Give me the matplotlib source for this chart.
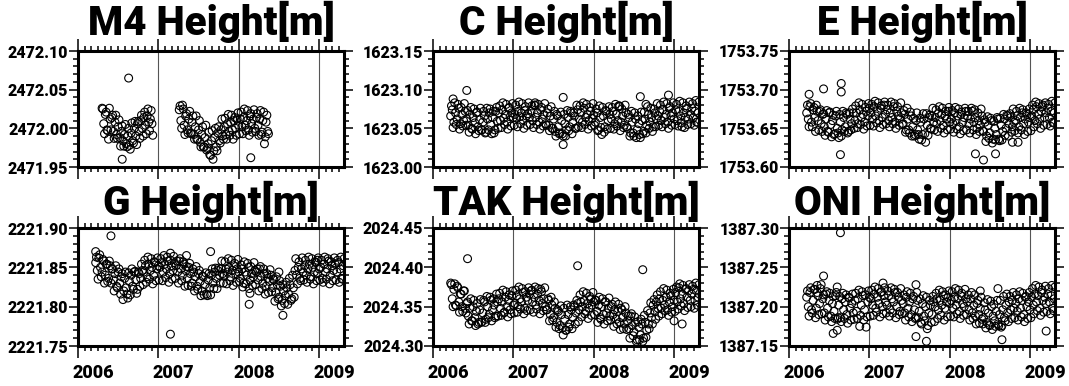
import numpy as np
import matplotlib.pyplot as plt
from matplotlib.ticker import FixedLocator, FormatStrFormatter
import matplotlib.transforms as mtransforms

plt.rcParams['font.family'] = ['Roboto', 'DejaVu Sans']
plt.rcParams['font.weight'] = 'black'

nan = np.nan

# solution epochs (decimal year): two interleaved sets, ~3.5 days apart
epochs = np.round(2006.22 + 0.02 * np.arange(155), 2)
epochs2 = np.round(epochs + 0.01, 2)

names = ['M4', 'C', 'E', 'G', 'TAK', 'ONI']
bases = [2472.00, 1623.00, 1753.60, 2221.80, 2024.30, 1387.20]   # m
ymins = [2471.95, 1623.00, 1753.60, 2221.75, 2024.30, 1387.15]   # m

# height residuals in mm relative to base, one value per epoch
m4_mm = [nan, nan, nan, nan, 26, 6, 18, -2, -14, 12,
         14, -4, 8, -8, 2, -12, -4, -16, -8, -20,
         -10, -22, -6, -16, 0, -10, 6, -4, 10, 0,
         14, 4, 16, 8, 12, 6, nan, nan, nan, nan,
         nan, nan, nan, nan, nan, nan, nan, nan, nan, nan,
         nan, nan, 24, 10, 30, 4, 16, -2, 12, -6,
         8, -8, 2, -14, -2, -18, -8, -24, -12, -28,
         -20, -34, -16, -40, -12, -24, -6, -16, -2, -10,
         2, -8, 6, -4, 8, -2, 10, 0, 12, 4,
         12, 2, 14, 4, 10, -2, 16, 6, 12, 0,
         14, 4, 12, -8, 10, -20, 8, -4, nan, nan,
         nan, nan, nan, nan, nan, nan, nan, nan, nan, nan,
         nan, nan, nan, nan, nan, nan, nan, nan, nan, nan,
         nan, nan, nan, nan, nan, nan, nan, nan, nan, nan,
         nan, nan, nan, nan, nan, nan, nan, nan, nan, nan,
         nan, nan, nan, nan, nan]
m4_mm2 = [nan, nan, nan, nan, 25, -7, 21, -3, 26, -2,
          17, -13, 17, -13, 11, -23, 3, -23, 5, -24,
          0, -27, 7, -19, 9, -21, 9, -13, 17, -10,
          21, -7, 25, -3, 23, -9, nan, nan, nan, nan,
          nan, nan, nan, nan, nan, nan, nan, nan, nan, nan,
          nan, nan, 29, 0, 25, -8, 19, -6, 22, -7,
          16, -14, 16, -14, 10, -24, 2, -24, 4, -26,
          -5, -35, -3, -29, 0, -29, 2, -19, 12, -14,
          13, -14, 18, -9, 17, -14, 14, -9, 20, -7,
          21, -7, 25, -3, 23, -9, 19, -5, 24, -4,
          19, -9, 23, -5, 21, -11, 17, -7, nan, nan,
          nan, nan, nan, nan, nan, nan, nan, nan, nan, nan,
          nan, nan, nan, nan, nan, nan, nan, nan, nan, nan,
          nan, nan, nan, nan, nan, nan, nan, nan, nan, nan,
          nan, nan, nan, nan, nan, nan, nan, nan, nan, nan,
          nan, nan, nan, nan, nan]
c_mm = [66, 74, 58, 70, 62, 76, 56, 68, 60, 72,
        62, 54, 68, 50, 64, 57, 70, 52, 61, 48,
        58, 66, 45, 62, 70, 55, 64, 44, 72, 59,
        70, 60, 74, 63, 68, 58, 76, 65, 70, 64,
        68, 63, 72, 65, 70, 61, 73, 66, 69, 64,
        72, 60, 80, 64, 70, 58, 74, 62, 68, 56,
        70, 54, 66, 50, 62, 46, 68, 52, 44, 60,
        40, 56, 48, 64, 52, 70, 58, 66, 50, 74,
        62, 70, 58, 76, 64, 68, 60, 72, 63, 67,
        58, 70, 48, 64, 42, 66, 52, 72, 60, 68,
        62, 72, 56, 68, 60, 78, 58, 66, 54, 70,
        50, 64, 44, 58, 40, 62, 48, 56, 38, 60,
        46, 62, 54, 68, 58, 64, 52, 70, 62, 66,
        72, 60, 74, 64, 68, 58, 76, 66, 70, 62,
        74, 60, 72, 66, 52, 70, 64, 76, 62, 68,
        76, 64, 72, 58, 70]
c_mm2 = [79, 51, 83, 55, 81, 49, 77, 53, 82, 54,
         73, 45, 77, 49, 75, 43, 71, 47, 76, 48,
         72, 44, 76, 48, 75, 43, 72, 48, 77, 50,
         79, 51, 83, 55, 81, 49, 77, 53, 82, 54,
         80, 52, 84, 56, 82, 50, 78, 54, 83, 55,
         79, 51, 83, 55, 81, 49, 77, 53, 82, 54,
         75, 47, 78, 50, 72, 40, 66, 43, 71, 43,
         68, 40, 73, 47, 72, 43, 70, 50, 80, 52,
         79, 51, 83, 55, 81, 49, 77, 53, 82, 54,
         75, 47, 79, 51, 77, 45, 73, 49, 78, 50,
         77, 49, 81, 53, 79, 47, 75, 51, 80, 52,
         68, 40, 72, 44, 70, 38, 66, 42, 71, 43,
         71, 44, 78, 50, 76, 46, 75, 52, 82, 54,
         80, 52, 84, 56, 82, 50, 78, 54, 83, 55,
         81, 53, 85, 57, 83, 51, 79, 55, 84, 56,
         82, 54, 86, 58, 84]
e_mm = [70, 62, 78, 58, 74, 64, 80, 60, 72, 56,
        68, 52, 62, 46, 70, 55, 60, 42, 66, 50,
        38, 58, 48, 64, 52, 68, 46, 62, 56, 70,
        60, 70, 56, 74, 64, 68, 58, 72, 66, 76,
        70, 62, 78, 66, 72, 60, 76, 64, 80, 68,
        74, 60, 70, 64, 78, 58, 72, 66, 62, 70,
        56, 68, 48, 62, 44, 66, 52, 40, 60, 48,
        36, 58, 42, 62, 32, 54, 64, 50, 66, 58,
        64, 56, 70, 60, 68, 54, 66, 62, 72, 58,
        62, 56, 70, 60, 66, 52, 68, 58, 64, 72,
        66, 56, 62, 72, 58, 64, 50, 60, 54, 66,
        46, 58, 40, 54, 44, 60, 36, 50, 42, 62,
        34, 54, 46, 62, 50, 66, 56, 64, 52, 58,
        60, 66, 52, 64, 70, 56, 62, 68, 58, 64,
        66, 74, 60, 78, 68, 62, 72, 80, 64, 70,
        76, 64, 72, 58, 70]
e_mm2 = [80, 52, 82, 52, 77, 46, 72, 48, 74, 46,
         69, 41, 73, 45, 71, 39, 67, 43, 72, 44,
         68, 40, 72, 46, 70, 44, 70, 48, 75, 50,
         79, 51, 83, 55, 81, 49, 77, 53, 82, 54,
         81, 53, 85, 57, 83, 51, 79, 55, 84, 56,
         80, 52, 84, 56, 82, 50, 78, 54, 83, 55,
         73, 45, 76, 48, 71, 40, 63, 42, 70, 42,
         63, 35, 69, 43, 69, 41, 67, 49, 76, 48,
         74, 46, 78, 50, 76, 44, 72, 48, 77, 49,
         73, 45, 77, 49, 75, 43, 71, 47, 76, 48,
         72, 44, 76, 48, 74, 42, 70, 46, 75, 47,
         61, 33, 65, 37, 63, 31, 59, 35, 64, 36,
         63, 35, 68, 41, 67, 40, 69, 45, 75, 47,
         72, 44, 76, 48, 74, 42, 70, 46, 75, 47,
         80, 52, 84, 56, 82, 50, 78, 54, 83, 55,
         81, 53, 85, 57, 83]
g_mm = [56, 46, 62, 50, 44, 58, 40, 54, 36, 52,
        48, 34, 42, 26, 44, 30, 38, 9, 36, 24,
        11, 32, 40, 26, 44, 34, 22, 42, 36, 46,
        44, 52, 38, 54, 46, 50, 40, 56, 48, 52,
        50, 56, 44, 54, 48, 58, 42, 52, 46, 56,
        52, 44, 58, 48, 40, 54, 46, 36, 50, 42,
        30, 44, 38, 26, 42, 32, 20, 38, 28, 16,
        34, 24, 40, 30, 44, 36, 46, 40, 48, 42,
        40, 48, 44, 50, 38, 46, 52, 42, 48, 44,
        36, 48, 30, 44, 40, 50, 34, 42, 38, 46,
        44, 34, 48, 38, 30, 42, 26, 36, 32, 40,
        24, 34, 18, 28, 12, 26, 8, 20, 14, 24,
        16, 28, 10, 24, 46, 40, 50, 36, 48, 44,
        52, 40, 48, 54, 38, 50, 44, 56, 42, 48,
        50, 36, 54, 44, 48, 58, 40, 52, 46, 54,
        44, 56, 48, 36, 52]
g_mm2 = [63, 35, 66, 38, 60, 30, 54, 32, 58, 30,
         48, 20, 52, 24, 48, 16, 42, 20, 44, 16,
         43, 15, 48, 22, 45, 17, 44, 26, 54, 28,
         59, 31, 63, 35, 61, 29, 57, 33, 62, 34,
         61, 33, 65, 37, 63, 31, 59, 35, 64, 36,
         58, 30, 61, 33, 57, 26, 51, 27, 55, 26,
         48, 20, 51, 22, 46, 14, 39, 15, 43, 14,
         42, 15, 48, 23, 49, 23, 49, 30, 58, 30,
         57, 29, 61, 33, 59, 27, 55, 31, 60, 32,
         53, 25, 57, 29, 55, 23, 51, 27, 56, 28,
         48, 20, 51, 23, 48, 16, 42, 18, 47, 19,
         35, 7, 38, 10, 33, 1, 28, 4, 31, 3,
         36, 8, 40, 12, 61, 29, 57, 33, 62, 34,
         59, 31, 63, 35, 61, 29, 57, 33, 62, 34,
         59, 31, 63, 35, 61, 29, 57, 33, 62, 34,
         59, 31, 63, 35, 61]
tak_mm = [80, 60, 72, 52, 76, 56, 66, 50, 70, 48,
          54, 38, 48, 32, 50, 36, 44, 28, 46, 30,
          42, 56, 34, 50, 40, 58, 46, 52, 38, 56,
          60, 48, 56, 42, 62, 50, 58, 46, 64, 52,
          54, 64, 50, 60, 56, 68, 48, 62, 58, 66,
          70, 56, 62, 52, 66, 58, 72, 54, 60, 50,
          46, 58, 40, 52, 36, 48, 30, 44, 26, 40,
          14, 34, 20, 40, 28, 46, 36, 50, 42, 54,
          46, 56, 50, 58, 44, 54, 48, 60, 52, 56,
          58, 44, 52, 36, 50, 40, 56, 42, 48, 38,
          50, 40, 46, 34, 44, 30, 48, 36, 28, 42,
          32, 22, 38, 26, 18, 30, 8, 24, 14, 28,
          10, 30, 20, 28, 42, 36, 52, 44, 56, 48,
          60, 48, 58, 52, 62, 46, 56, 64, 50, 58,
          68, 56, 74, 60, 66, 54, 72, 62, 70, 58,
          66, 72, 58, 70, 62]
tak_mm2 = [78, 50, 79, 51, 74, 43, 66, 44, 70, 42,
           56, 28, 60, 32, 58, 26, 54, 30, 59, 31,
           58, 30, 63, 36, 62, 32, 60, 36, 66, 38,
           67, 39, 71, 43, 69, 37, 65, 41, 70, 42,
           71, 43, 75, 47, 73, 41, 69, 45, 74, 46,
           71, 43, 75, 47, 73, 41, 69, 45, 74, 46,
           60, 32, 62, 33, 56, 24, 46, 22, 51, 23,
           48, 20, 52, 24, 50, 22, 52, 28, 58, 31,
           65, 37, 69, 41, 67, 35, 63, 39, 68, 40,
           58, 30, 62, 34, 60, 28, 56, 32, 61, 33,
           53, 25, 56, 28, 53, 21, 46, 22, 50, 21,
           38, 10, 41, 13, 37, 6, 31, 8, 34, 6,
           39, 11, 45, 22, 55, 28, 59, 34, 65, 38,
           69, 41, 73, 45, 71, 39, 67, 43, 72, 44,
           75, 47, 79, 51, 77, 45, 73, 49, 78, 50,
           76, 48, 80, 52, 78]
oni_mm = [12, 0, 18, -4, 8, 22, -2, 14, 4, 28,
          10, -8, 16, -2, 8, -12, 4, -6, 14, -16,
          2, -14, 10, -4, 6, -10, 12, -2, 4, -8,
          8, -6, 10, -25, 2, 14, -4, -26, 6, 12,
          10, 2, 16, -2, 12, 4, 18, 0, 14, 6,
          2, 14, -4, 10, 6, 18, 0, 12, -6, 8,
          4, -8, 12, -2, 6, -10, 10, -4, -14, 8,
          -6, -20, 4, -12, 0, -28, -8, 2, -10, 6,
          0, 10, -4, 8, 2, 14, -2, 6, 12, 4,
          8, -2, 12, 2, 10, -6, 14, 4, 0, 10,
          6, -4, 10, -8, 2, -12, 4, -10, -2, -16,
          -14, -4, -20, -8, -24, 0, -12, -18, -6, -22,
          -10, -26, -4, -14, 2, -8, 6, -4, 8, -2,
          4, -6, 10, -2, 8, -10, 12, 0, 6, -4,
          12, 2, 16, 6, 14, -2, 18, 8, 12, 4,
          16, 6, 14, -2, 10]
oni_mm2 = [20, -12, 24, -8, 22, -14, 18, -10, 23, -9,
           15, -17, 19, -13, 17, -19, 13, -15, 18, -14,
           13, -19, 17, -15, 15, -21, 11, -17, 16, -16,
           17, -15, 21, -11, 19, -17, 15, -13, 20, -12,
           21, -11, 25, -7, 23, -13, 19, -9, 24, -8,
           20, -12, 24, -8, 22, -14, 18, -10, 23, -9,
           15, -17, 19, -13, 17, -19, 13, -15, 18, -14,
           10, -22, 14, -18, 12, -24, 8, -20, 13, -19,
           17, -15, 21, -11, 19, -17, 15, -13, 20, -12,
           19, -13, 23, -9, 21, -15, 17, -11, 22, -10,
           15, -17, 18, -15, 15, -22, 8, -21, 12, -22,
           5, -27, 9, -23, 7, -29, 3, -25, 8, -24,
           8, -24, 13, -18, 16, -19, 13, -15, 18, -14,
           15, -17, 19, -13, 17, -19, 13, -15, 18, -14,
           23, -9, 27, -5, 25, -11, 21, -7, 26, -6,
           23, -9, 27, -5, 25]

# isolated outliers: epoch and mm
m4_out_t = [2006.63, 2006.55, 2008.15]
m4_out_mm = [65, -40, -38]
c_out_t = [2006.25, 2006.42, 2007.62, 2007.62, 2008.58, 2008.65, 2008.93, 2007.27, 2008.32]
c_out_mm = [88, 99, 90, 29, 91, 81, 93, 80, 79]
e_out_t = [2006.25, 2006.43, 2006.65, 2006.65, 2006.64, 2008.32, 2008.42, 2008.57, 2008.78, 2008.85]
e_out_mm = [94, 101, 108, 97, 16, 17, 9, 17, 32, 32]
g_out_t = [2006.41, 2006.22, 2007.15, 2007.15, 2007.65, 2007.35, 2008.13, 2008.14, 2008.55, 2008.50, 2008.98]
g_out_mm = [90, 70, -35, 68, 70, 65, 3, 17, -11, 44, 59]
tak_out_t = [2006.43, 2007.80, 2008.61, 2009.10, 2009.00]
tak_out_mm = [111, 102, 97, 28, 32]
oni_out_t = [2006.64, 2006.43, 2006.35, 2006.60, 2007.17, 2007.58, 2007.58, 2007.71,
             2008.38, 2008.60, 2008.65, 2009.20, 2006.55, 2006.60]
oni_out_mm = [94, 39, 27, 25, 30, 28, -38, -44, 20, 23, -42, -31, -34, -30]

series = [m4_mm, c_mm, e_mm, g_mm, tak_mm, oni_mm]
series2 = [m4_mm2, c_mm2, e_mm2, g_mm2, tak_mm2, oni_mm2]
out_t = [m4_out_t, c_out_t, e_out_t, g_out_t, tak_out_t, oni_out_t]
out_mm = [m4_out_mm, c_out_mm, e_out_mm, g_out_mm, tak_out_mm, oni_out_mm]

years = [2006, 2007, 2008, 2009]

W, H = 1069, 386
fig = plt.figure(figsize=(W / 100, H / 100), dpi=100)
fig.patch.set_facecolor('white')

col_left = [78, 433, 789]
ax_w = 266
row_top = [51, 228]
row_h = [116, 118]
title_base = [35, 215]

for i, name in enumerate(names):
    r, c = divmod(i, 3)
    ax = fig.add_axes([col_left[c] / W, 1 - (row_top[r] + row_h[r]) / H,
                       ax_w / W, row_h[r] / H])
    ax.set_xlim(2006.0, 2009.31)
    ax.set_ylim(ymins[i], ymins[i] + 0.15)

    ax.grid(axis='x', which='major', color='#555555', lw=0.8, zorder=0)

    t = np.concatenate([epochs, epochs2, out_t[i]])
    mm = np.concatenate([np.array(series[i], float), np.array(series2[i], float), out_mm[i]])
    y = bases[i] + mm / 1000.0
    ax.scatter(t, y, s=32, facecolors='none', edgecolors='black',
               linewidths=0.8, zorder=3)

    ax.xaxis.set_major_locator(FixedLocator(years))
    ax.xaxis.set_minor_locator(FixedLocator([2006 + m / 12 for m in range(40)]))
    yt = [round(ymins[i] + k * 0.05, 2) for k in range(4)]
    ax.yaxis.set_major_locator(FixedLocator(yt))
    ax.yaxis.set_minor_locator(FixedLocator([ymins[i] + k * 0.01 for k in range(16)]))
    ax.yaxis.set_major_formatter(FormatStrFormatter('%.2f'))

    ax.tick_params(which='both', direction='out', top=True, right=True,
                   labelbottom=False, width=1.1)
    ax.tick_params(axis='y', which='major', length=6.5, labelsize=11.5, pad=0.5)
    ax.tick_params(axis='x', which='major', length=8.5)
    ax.tick_params(which='minor', length=3.5)
    for sp in ax.spines.values():
        sp.set_linewidth(2.2)

    fig.text((col_left[c] + ax_w / 2) / W, 1 - title_base[r] / H,
             name + ' Height[m]', ha='center', va='baseline', fontsize=29)

    if r == 1:
        trans = mtransforms.blended_transform_factory(ax.transData, ax.transAxes)
        for yr in years:
            ax.text(yr + 0.19, -0.15, str(yr), transform=trans,
                    ha='center', va='top', fontsize=13)

fig.savefig('out.png', dpi=100)
